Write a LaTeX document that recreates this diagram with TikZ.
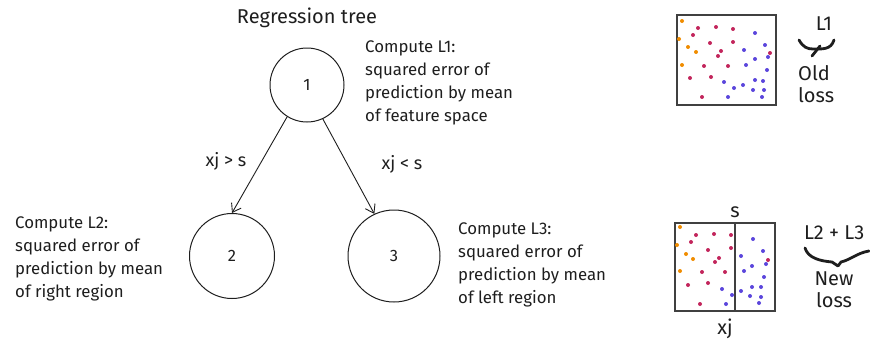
\documentclass[tikz,border=0pt]{standalone}
\usepackage{fontspec}
\setmainfont{Fira Sans}
\usetikzlibrary{arrows.meta}
\definecolor{dotor}{HTML}{F08C00}
\definecolor{dotred}{HTML}{C2255C}
\definecolor{dotblue}{HTML}{5B45DC}
\definecolor{ink}{HTML}{1E1E1E}
\begin{document}
\begin{tikzpicture}[x=1pt,y=-1pt,
  every node/.style={text=ink},
  txt/.style={font=\fontsize{16.8}{23}\selectfont, align=left, inner sep=0pt},
  lbl/.style={font=\fontsize{18}{21}\selectfont, inner sep=0pt},
  big/.style={font=\fontsize{20}{22}\selectfont, inner sep=0pt},
  treenode/.style={circle, draw=ink, line width=1pt, font=\fontsize{16.5}{17}\selectfont, inner sep=0pt},
  edge/.style={draw=ink, line width=0.9pt, -{Straight Barb[length=8pt,width=11pt]}},
  frame/.style={draw=ink!85, line width=1.3pt},
  brace/.style={draw=ink, line width=2.8pt, line cap=round, line join=round},
  od/.style={fill=dotor},
  rd/.style={fill=dotred},
  bd/.style={fill=dotblue}]
\useasboundingbox (0,0) rectangle (870,343);

% tree
\node[big] (title) at (307,18) {Regression tree};
\node[treenode, minimum size=74pt] (n1) at (307,85) {1};
\node[treenode, minimum size=85pt] (n2) at (232,256) {2};
\node[treenode, minimum size=92pt] (n3) at (394,256) {3};
\draw[edge] (n1.238) -- (n2.north);
\draw[edge] (n1.295) -- (n3.115);
\node[lbl] (c1) at (226,161) {xj > s};
\node[lbl] (c2) at (402,164) {xj < s};

\node[txt, anchor=west] (t1) at (365,83) {Compute L1:\\squared error of\\prediction by mean\\of feature space};
\node[txt, anchor=west] (t2) at (15,259) {Compute L2:\\squared error of\\prediction by mean\\of right region};
\node[txt, anchor=west] (t3) at (458,265) {Compute L3:\\squared error of\\prediction by mean\\of left region};

% top feature space
\draw[frame] (677,15) rectangle (776,105);
\foreach \p in {(682,21),(679,39),(688,47),(696,52),(682,65)} \fill[od] \p circle (2);
\foreach \p in {(698,28),(716,27),(733,29),(693,35),(710,43),(733,42),(721,51),(718,56),(704,66),(728,66),(690,78),(711,77),(702,97),(770,53)} \fill[rd] \p circle (2);
\foreach \p in {(755,33),(765,45),(744,50),(768,57),(755,59),(746,65),(767,70),(724,82),(755,80),(763,81),(743,85),(734,88),(753,90),(764,90),(728,97),(762,97)} \fill[bd] \p circle (2);
\node[big] (l1) at (824,24) {L1};
\draw[brace] (799,40) .. controls (803,47) and (807,49) .. (813,49) .. controls (822,49) and (831,50) .. (834,40);
\draw[brace] (820,46) -- (812,56);
\node[big, align=left, anchor=west] (old) at (798,84) {Old\\loss};

% bottom feature space
\draw[frame] (675,223) rectangle (775,311);
\draw[frame] (735,223) -- (735,311);
\foreach \p in {(680,227),(677,245),(686,254),(693,259),(680,271)} \fill[od] \p circle (2);
\foreach \p in {(696,235),(714,234),(731,235),(691,242),(708,250),(731,248),(719,258),(715,262),(702,272),(725,272),(688,285),(708,283),(700,304),(768,260)} \fill[rd] \p circle (2);
\foreach \p in {(753,239),(763,251),(741,256),(766,264),(752,266),(744,271),(764,277),(722,289),(752,287),(761,287),(741,291),(732,295),(750,296),(761,297),(726,304),(759,303)} \fill[bd] \p circle (2);
\node[big] (s) at (735,212) {s};
\node[big] (xj) at (725,329) {xj};
\node[big, anchor=west] (l23) at (804,233) {L2 + L3};
\draw[brace] (805,248) .. controls (808,258) and (820,261) .. (832,262) -- (838,266) -- (841,262) .. controls (850,260) and (857,253) .. (869,251);
\node[big, align=center] (new) at (834,290) {New\\loss};
\end{tikzpicture}
\end{document}
